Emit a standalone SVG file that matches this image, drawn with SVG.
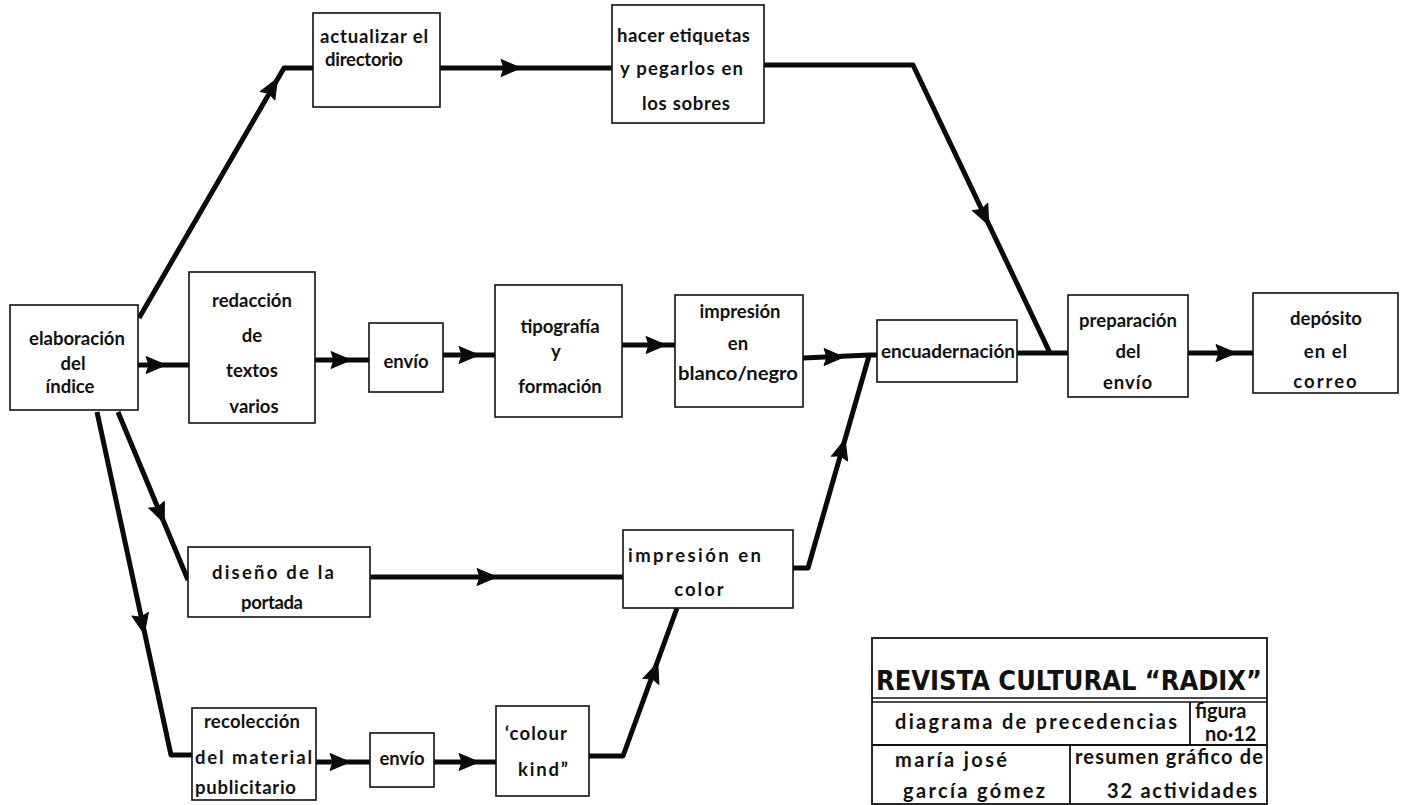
<svg xmlns="http://www.w3.org/2000/svg" xmlns:xlink="http://www.w3.org/1999/xlink" width="1409" height="805" viewBox="0 0 1409 805">
<style>
.box{fill:#fff;stroke:#111;stroke-width:1.6}
.edge{fill:none;stroke:#0a0a0a;stroke-width:5;stroke-linejoin:round}
.t{font-family:Lato,"Noto Sans",sans-serif;font-weight:700;font-size:18.5px;fill:#111}
.c{text-anchor:middle}
.tb{font-family:Lato,"Noto Sans",sans-serif;font-weight:700;font-size:20px;fill:#111}
.title{font-family:"DejaVu Sans",sans-serif;font-weight:bold;font-size:27px;fill:#111}
</style>
<defs>
<polygon id="ah" points="11,0 -9,-8.5 -6,0 -9,8.5" fill="#0a0a0a" stroke="#0a0a0a" stroke-width="1" stroke-linejoin="round"/>
</defs>
<rect width="1409" height="805" fill="#fff"/>
<g id="connectors">
<path class="edge" d="M139,318 L284,68 L313,68"/>
<use xlink:href="#ah" transform="translate(272,88) rotate(-60)"/>
<path class="edge" d="M440,68 L612,68"/>
<use xlink:href="#ah" transform="translate(510,68)"/>
<path class="edge" d="M764,65 L913,65 L1050,353"/>
<use xlink:href="#ah" transform="translate(984,215) rotate(64.6)"/>
<path class="edge" d="M1017,353 L1068,353"/>
<path class="edge" d="M138,365 L189,365"/>
<use xlink:href="#ah" transform="translate(155,365)"/>
<path class="edge" d="M315,360 L369,360"/>
<use xlink:href="#ah" transform="translate(340,360)"/>
<path class="edge" d="M443,355 L495,355"/>
<use xlink:href="#ah" transform="translate(468,355)"/>
<path class="edge" d="M622,345 L675,345"/>
<use xlink:href="#ah" transform="translate(655,345)"/>
<path class="edge" d="M803,358 L870,355 L877,355"/>
<use xlink:href="#ah" transform="translate(833,357)"/>
<path class="edge" d="M793,568 L808,568 L869,356"/>
<use xlink:href="#ah" transform="translate(842,450) rotate(-74)"/>
<path class="edge" d="M370,577 L623,577"/>
<use xlink:href="#ah" transform="translate(486,577)"/>
<path class="edge" d="M118,412 L188,580"/>
<use xlink:href="#ah" transform="translate(160,513) rotate(67.4)"/>
<path class="edge" d="M97,412 L171,755 L192,755"/>
<use xlink:href="#ah" transform="translate(142,623) rotate(77.8)"/>
<path class="edge" d="M316,762 L370,762"/>
<use xlink:href="#ah" transform="translate(339,762)"/>
<path class="edge" d="M434,762 L496,762"/>
<use xlink:href="#ah" transform="translate(468,762)"/>
<path class="edge" d="M589,756 L623,756 L677,608"/>
<use xlink:href="#ah" transform="translate(654,673) rotate(-70)"/>
<path class="edge" d="M1188,353 L1253,353"/>
<use xlink:href="#ah" transform="translate(1225,353)"/>
</g>
<g id="n-elaboracion">
<rect class="box" x="10" y="305" width="128" height="105"/>
<text class="t c" x="77" y="345">elaboración</text>
<text class="t c" x="73" y="370">del</text>
<text class="t c" x="70" y="393">índice</text>
</g>
<g id="n-actualizar">
<rect class="box" x="313" y="13" width="127" height="94"/>
<text class="t" x="320" y="43" textLength="108" lengthAdjust="spacing">actualizar el</text>
<text class="t" x="325" y="66" textLength="78" lengthAdjust="spacing">directorio</text>
</g>
<g id="n-hacer">
<rect class="box" x="612" y="5" width="152" height="118"/>
<text class="t" x="617" y="42" textLength="133" lengthAdjust="spacing">hacer etiquetas</text>
<text class="t" x="620" y="75" textLength="123" lengthAdjust="spacing">y pegarlos en</text>
<text class="t" x="642" y="110" textLength="88" lengthAdjust="spacing">los sobres</text>
</g>
<g id="n-redaccion">
<rect class="box" x="189" y="272" width="126" height="151"/>
<text class="t c" x="252" y="307">redacción</text>
<text class="t c" x="252" y="342">de</text>
<text class="t c" x="252" y="377">textos</text>
<text class="t c" x="254" y="413">varios</text>
</g>
<g id="n-envio1">
<rect class="box" x="369" y="323" width="74" height="69"/>
<text class="t c" x="406" y="368">envío</text>
</g>
<g id="n-tipografia">
<rect class="box" x="495" y="285" width="127" height="132"/>
<text class="t c" x="560" y="333">tipografía</text>
<text class="t c" x="556" y="358">y</text>
<text class="t c" x="560" y="393">formación</text>
</g>
<g id="n-impresion-bn">
<rect class="box" x="675" y="295" width="128" height="112"/>
<text class="t c" x="740" y="318">impresión</text>
<text class="t c" x="738" y="350">en</text>
<text class="t" x="678" y="380" font-size="16" textLength="120" lengthAdjust="spacingAndGlyphs">blanco/negro</text>
</g>
<g id="n-encuadernacion">
<rect class="box" x="877" y="320" width="140" height="62"/>
<text class="t" x="881" y="358" textLength="134" lengthAdjust="spacingAndGlyphs">encuadernación</text>
</g>
<g id="n-preparacion">
<rect class="box" x="1068" y="295" width="120" height="102"/>
<text class="t c" x="1128" y="327">preparación</text>
<text class="t c" x="1128" y="358">del</text>
<text class="t c" x="1128" y="389" letter-spacing="1">envío</text>
</g>
<g id="n-deposito">
<rect class="box" x="1253" y="293" width="145" height="100"/>
<text class="t c" x="1326" y="325">depósito</text>
<text class="t c" x="1326" y="358" letter-spacing="1">en el</text>
<text class="t c" x="1326" y="388" letter-spacing="2">correo</text>
</g>
<g id="n-diseno">
<rect class="box" x="188" y="547" width="182" height="70"/>
<text class="t" x="212" y="579" textLength="122" lengthAdjust="spacing">diseño de la</text>
<text class="t" x="241" y="609" textLength="62" lengthAdjust="spacing">portada</text>
</g>
<g id="n-impresion-color">
<rect class="box" x="623" y="530" width="170" height="78"/>
<text class="t" x="628" y="562" textLength="133" lengthAdjust="spacing">impresión  en</text>
<text class="t c" x="700" y="596" letter-spacing="2">color</text>
</g>
<g id="n-recoleccion">
<rect class="box" x="192" y="708" width="124" height="92"/>
<text class="t" x="204" y="728" textLength="96" lengthAdjust="spacing">recolección</text>
<text class="t" x="195" y="764" textLength="117" lengthAdjust="spacing">del  material</text>
<text class="t" x="195" y="794" textLength="101" lengthAdjust="spacing">publicitario</text>
</g>
<g id="n-envio2">
<rect class="box" x="370" y="733" width="64" height="54"/>
<text class="t c" x="402" y="765">envío</text>
</g>
<g id="n-colour">
<rect class="box" x="496" y="706" width="93" height="90"/>
<text class="t" x="505" y="740" textLength="62" lengthAdjust="spacing">‘colour</text>
<text class="t" x="518" y="776" textLength="50" lengthAdjust="spacing">kind”</text>
</g>
<g id="titleblock">
<rect x="872" y="638" width="395" height="166" fill="#fff" stroke="#111" stroke-width="1.8"/>
<line x1="872" y1="698" x2="1267" y2="698" stroke="#111" stroke-width="1.4"/>
<line x1="872" y1="702" x2="1267" y2="702" stroke="#111" stroke-width="1.4"/>
<line x1="872" y1="745" x2="1267" y2="745" stroke="#111" stroke-width="1.8"/>
<line x1="1190" y1="702" x2="1190" y2="745" stroke="#111" stroke-width="1.8"/>
<line x1="1070" y1="745" x2="1070" y2="804" stroke="#111" stroke-width="1.8"/>
<text class="title" x="876" y="690" textLength="386" lengthAdjust="spacingAndGlyphs">REVISTA CULTURAL “RADIX”</text>
<text class="tb" x="895" y="729" textLength="282" lengthAdjust="spacing">diagrama de precedencias</text>
<text class="tb" x="1195" y="718" font-size="12">figura</text>
<text class="tb" x="1205" y="741" font-size="11">no·12</text>
<text class="tb" x="895" y="767" textLength="112" lengthAdjust="spacing">maría  josé</text>
<text class="tb" x="903" y="798" textLength="142" lengthAdjust="spacing">garcía  gómez</text>
<text class="tb" x="1075" y="764" textLength="188" lengthAdjust="spacing">resumen gráfico de</text>
<text class="tb" x="1107" y="798" textLength="150" lengthAdjust="spacing">32 actividades</text>
</g>
</svg>
